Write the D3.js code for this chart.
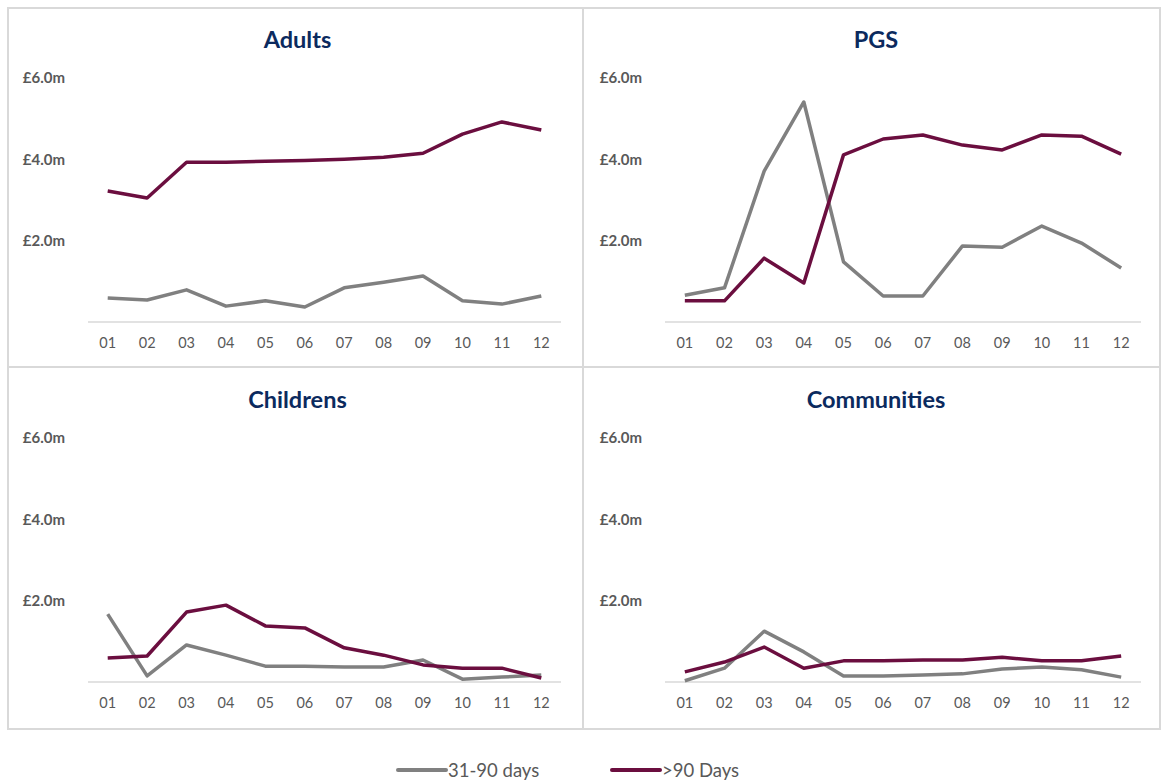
<!DOCTYPE html>
<html lang="en">
<head>
<meta charset="UTF-8">
<title>Aged debt by directorate</title>
<script src="https://d3js.org/d3.v7.min.js"></script>
<style>
    body { margin: 0; background: #fff; }
    svg { display: block; font-family: Lato, "Open Sans", sans-serif; }
    .title { font-size: 23.5px; font-weight: bold; fill: #0b2a5e; }
    .yaxis text { font-family: Lato, sans-serif; font-size: 15px; font-weight: bold; fill: #595959; }
    .xaxis text { font-family: Lato, sans-serif; font-size: 14.5px; fill: #595959; }
    .legend text { font-size: 18.5px; fill: #595959; }
</style>
</head>
<body>
<div id="chart"></div>
<script>
    const months = ["01", "02", "03", "04", "05", "06", "07", "08", "09", "10", "11", "12"];
    const yTicks = [2, 4, 6];
    const seriesNames = ["31-90 days", ">90 Days"];
    const seriesColors = ["#808080", "#6b0e3f"];

    // values in £m
    const adults31 = [0.59, 0.54, 0.79, 0.39, 0.52, 0.37, 0.84, 0.98, 1.13, 0.52, 0.44, 0.64];
    const adults90 = [3.22, 3.05, 3.93, 3.93, 3.95, 3.97, 4.0, 4.05, 4.15, 4.62, 4.92, 4.72];
    const pgs31 = [0.66, 0.84, 3.71, 5.41, 1.48, 0.64, 0.64, 1.87, 1.84, 2.36, 1.94, 1.33];
    const pgs90 = [0.52, 0.52, 1.57, 0.96, 4.11, 4.5, 4.6, 4.35, 4.23, 4.6, 4.57, 4.13];
    const childrens31 = [1.67, 0.15, 0.91, 0.66, 0.39, 0.39, 0.37, 0.37, 0.54, 0.07, 0.12, 0.17];
    const childrens90 = [0.59, 0.64, 1.72, 1.89, 1.38, 1.33, 0.84, 0.66, 0.42, 0.34, 0.34, 0.1];
    const communities31 = [0.03, 0.34, 1.25, 0.74, 0.15, 0.15, 0.17, 0.2, 0.32, 0.37, 0.3, 0.12];
    const communities90 = [0.25, 0.49, 0.86, 0.34, 0.52, 0.52, 0.54, 0.54, 0.61, 0.52, 0.52, 0.64];

    const panels = [
        { title: "Adults", series: [adults31, adults90], x0: 88, x1: 561, y0: 322, labelX: 65, titleY: 48 },
        { title: "PGS", series: [pgs31, pgs90], x0: 665, x1: 1141, y0: 322, labelX: 642, titleY: 48 },
        { title: "Childrens", series: [childrens31, childrens90], x0: 88, x1: 561, y0: 682, labelX: 65, titleY: 408 },
        { title: "Communities", series: [communities31, communities90], x0: 665, x1: 1141, y0: 682, labelX: 642, titleY: 408 }
    ];

    const width = 1162, height = 784;
    const svg = d3.select("#chart").append("svg")
        .attr("width", width)
        .attr("height", height);

    // outer frame and dividers
    svg.append("rect")
        .attr("x", 8).attr("y", 8)
        .attr("width", 1152).attr("height", 721)
        .attr("fill", "none")
        .attr("stroke", "#d9d9d9")
        .attr("stroke-width", 2);
    svg.append("line")
        .attr("x1", 583).attr("x2", 583).attr("y1", 8).attr("y2", 729)
        .attr("stroke", "#d9d9d9").attr("stroke-width", 2);
    svg.append("line")
        .attr("x1", 8).attr("x2", 1160).attr("y1", 367).attr("y2", 367)
        .attr("stroke", "#d9d9d9").attr("stroke-width", 2);

    panels.forEach(p => {
        const g = svg.append("g");

        const x = d3.scaleBand().domain(months).range([p.x0, p.x1]);
        const y = d3.scaleLinear().domain([0, 6]).range([p.y0, p.y0 - 244]);

        g.append("text")
            .attr("class", "title")
            .attr("x", (p.x0 + p.x1) / 2 - 27)
            .attr("y", p.titleY)
            .attr("text-anchor", "middle")
            .text(p.title);

        // y axis labels only
        const yAxis = g.append("g")
            .attr("class", "yaxis")
            .attr("transform", `translate(${p.labelX},0)`)
            .call(d3.axisLeft(y).tickValues(yTicks).tickSize(0).tickPadding(0)
                .tickFormat(d => `£${d.toFixed(1)}m`));
        yAxis.select(".domain").remove();

        // baseline
        g.append("line")
            .attr("x1", p.x0).attr("x2", p.x1)
            .attr("y1", y(0)).attr("y2", y(0))
            .attr("stroke", "#d9d9d9")
            .attr("stroke-width", 1.5);

        const xAxis = g.append("g")
            .attr("class", "xaxis")
            .attr("transform", `translate(0,${y(0)})`)
            .call(d3.axisBottom(x).tickSize(0).tickPadding(16));
        xAxis.select(".domain").remove();

        const line = d3.line()
            .x((d, i) => x(months[i]) + x.bandwidth() / 2)
            .y(d => y(d));

        p.series.forEach((s, i) => {
            g.append("path")
                .datum(s)
                .attr("fill", "none")
                .attr("stroke", seriesColors[i])
                .attr("stroke-width", 3.5)
                .attr("stroke-linejoin", "round")
                .attr("d", line);
        });
    });

    // legend
    const legend = svg.append("g").attr("class", "legend");
    const legendX = [398, 612];
    seriesNames.forEach((name, i) => {
        legend.append("line")
            .attr("x1", legendX[i]).attr("x2", legendX[i] + 48)
            .attr("y1", 770).attr("y2", 770)
            .attr("stroke", seriesColors[i])
            .attr("stroke-width", 4)
            .attr("stroke-linecap", "round");
        legend.append("text")
            .attr("x", legendX[i] + 50)
            .attr("y", 776.5)
            .text(name);
    });
</script>
</body>
</html>
